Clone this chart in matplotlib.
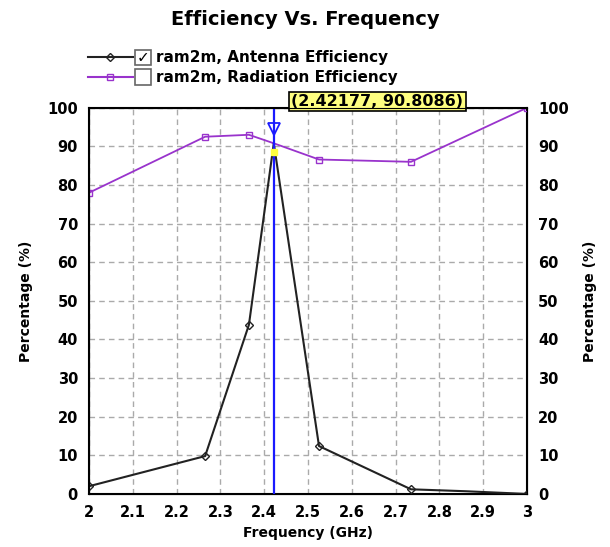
import matplotlib
matplotlib.use('Agg')
import matplotlib.pyplot as plt
from matplotlib.lines import Line2D
from matplotlib.patches import Rectangle

# データ
freq_ant = [2.0, 2.265, 2.365, 2.42177, 2.525, 2.735, 2.86, 2.96, 3.0]
eff_ant = [2.0, 9.8, 43.8, 90.8, 12.4, 1.2, 0.7, 0.2, 0.0]
mark_ant = [0, 1, 2, 4, 5, 8]

freq_rad = [2.0, 2.265, 2.365, 2.42177, 2.525, 2.735, 3.0]
eff_rad = [78.0, 92.5, 93.0, 90.8, 86.6, 86.0, 100.0]
mark_rad = [0, 1, 2, 4, 5, 6]

cursor_x = 2.42177
cursor_y = 90.8086
labels = ['ram2m, Antenna Efficiency', 'ram2m, Radiation Efficiency']
xticks = [2, 2.1, 2.2, 2.3, 2.4, 2.5, 2.6, 2.7, 2.8, 2.9, 3]
yticks = list(range(0, 101, 10))

purple = '#9933CC'

fig = plt.figure(figsize=(6.10, 5.47), dpi=100)
ax = fig.add_axes([0.146, 0.097, 0.718, 0.706])

ax.plot(freq_rad, eff_rad, color=purple, lw=1.3, marker='s', ms=4.5,
        mfc='none', mec=purple, markevery=mark_rad, zorder=3)
ax.plot(freq_ant, eff_ant, color='#222222', lw=1.5, marker='D', ms=4.5,
        mfc='none', mec='#222222', markevery=mark_ant, zorder=3)

# カーソル
ax.axvline(cursor_x, color='#1a1aff', lw=1.6, zorder=4)
ax.plot([cursor_x], [94.5], marker='v', ms=9, mfc='none', mec='#1a1aff', mew=1.3, zorder=5)
ax.plot([cursor_x], [88.5], marker='s', ms=5, mfc='#ffff40', mec='#ffff40', zorder=5)
ax.text(cursor_x + 0.04, 101.6, '(%.5f, %.4f)' % (cursor_x, cursor_y),
        fontsize=11.5, fontweight='bold', ha='left', va='center', zorder=6,
        bbox=dict(boxstyle='square,pad=0.15', fc='#ffff80', ec='black', lw=1.2),
        clip_on=False)

ax.set_xlim(2, 3)
ax.set_ylim(0, 100)
ax.set_xticks(xticks)
ax.set_xticklabels(['%g' % t for t in xticks])
ax.set_yticks(yticks)
ax.grid(True, color='#aaaaaa', ls=(0, (4, 3)), lw=1)
ax.tick_params(length=0, pad=8, labelsize=10.5)
for lab in ax.get_xticklabels() + ax.get_yticklabels():
    lab.set_fontweight('bold')
for s in ax.spines.values():
    s.set_linewidth(1.5)
ax.set_xlabel('Frequency (GHz)', fontsize=10, fontweight='bold', labelpad=4)
ax.set_ylabel('Percentage (%)', fontsize=10, fontweight='bold', labelpad=10)

ax2 = ax.twinx()
ax2.set_ylim(0, 100)
ax2.set_yticks(yticks)
ax2.tick_params(length=0, pad=8, labelsize=10.5)
for lab in ax2.get_yticklabels():
    lab.set_fontweight('bold')
ax2.set_ylabel('Percentage (%)', fontsize=10, fontweight='bold', labelpad=10)

fig.text(0.5, 0.965, 'Efficiency Vs. Frequency', ha='center', va='center',
         fontsize=14, fontweight='bold')

# 凡例
for i, (lab, col, mk) in enumerate(zip(labels, ['#222222', purple], ['D', 's'])):
    y = 0.895 - i * 0.036
    fig.add_artist(Line2D([0.145, 0.218], [y, y], color=col, lw=1.5))
    fig.add_artist(Line2D([0.181], [y], color=col, marker=mk, ms=4.5, mfc='none', mec=col))
    fig.add_artist(Rectangle((0.221, y - 0.014), 0.026, 0.028, fc='white',
                             ec='#666666', lw=1.2))
    if i == 0:
        fig.text(0.234, y, '\u2713', ha='center', va='center', fontsize=11,
                 fontweight='bold', color='black')
    fig.text(0.256, y, lab, ha='left', va='center', fontsize=11, fontweight='bold')

plt.savefig('out.png', dpi=100)
